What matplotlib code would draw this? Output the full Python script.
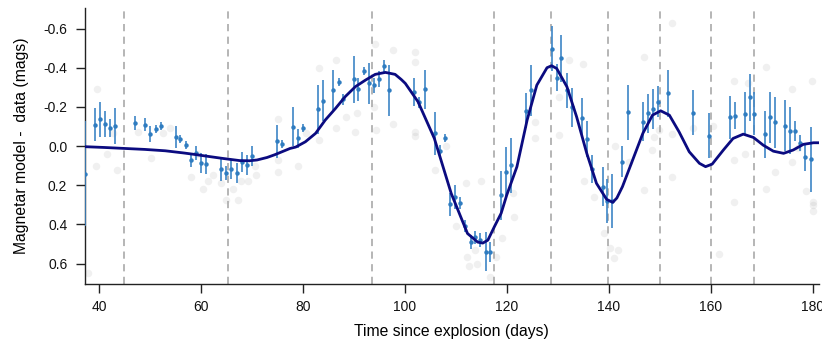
import matplotlib
matplotlib.use("Agg")
import matplotlib.pyplot as plt

plt.rcParams['font.family'] = ['Liberation Sans', 'DejaVu Sans']

# Observed residuals with uncertainties (blue)
obs_x = [37.3, 39.2, 40.2, 41.2, 42.15, 43.1, 47.1, 49.1, 50.1, 51.1, 52.1,
         55.1, 56.0, 57.0, 58.0, 59.0, 60.0, 61.1, 64.0, 65.0, 66.0, 67.0,
         68.0, 69.0, 70.0, 75.0, 76.0, 78.0, 79.0, 80.0, 83.0, 84.0, 85.9,
         87.0, 87.9, 90.0, 90.9, 91.9, 92.9, 94.0, 94.9, 95.9, 96.9, 101.8,
         102.8, 103.9, 105.9, 106.9, 107.8, 108.9, 109.9, 110.8, 111.9, 112.9,
         113.8, 114.8, 115.9, 116.8, 118.9, 119.8, 120.8, 123.8, 124.8, 128.8,
         129.8, 130.7, 131.8, 132.8, 134.8, 135.8, 136.7, 138.8, 139.7, 140.7,
         142.7, 143.7, 146.7, 147.7, 148.7, 149.7, 151.7, 156.6, 159.7, 163.7,
         164.7, 166.7, 167.7, 168.6, 170.7, 171.6, 172.6, 174.6, 175.6, 176.6,
         177.6, 178.6, 179.7]
obs_y = [0.14, -0.11, -0.136, -0.112, -0.092, -0.102, -0.119, -0.11, -0.06,
         -0.087, -0.104, -0.047, -0.037, -0.004, 0.073, 0.036, 0.085, 0.09,
         0.116, 0.136, 0.117, 0.138, 0.082, 0.098, 0.05, -0.024, -0.01,
         -0.099, -0.039, -0.093, -0.187, -0.231, -0.286, -0.328, -0.238,
         -0.34, -0.289, -0.383, -0.32, -0.31, -0.343, -0.41, -0.286, -0.277,
         -0.223, -0.29, -0.065, 0.024, -0.043, 0.298, 0.26, 0.289, 0.408,
         0.49, 0.466, 0.481, 0.539, 0.54, 0.25, 0.134, 0.099, -0.18, -0.286,
         -0.497, -0.35, -0.449, -0.284, -0.197, -0.143, -0.036, 0.117, 0.207,
         0.28, 0.28, 0.08, -0.172, -0.124, -0.168, -0.189, -0.226, -0.269,
         -0.17, -0.053, -0.146, -0.156, -0.165, -0.248, -0.165, -0.06, -0.146,
         -0.121, -0.104, -0.078, -0.078, -0.015, 0.058, 0.068]
obs_err = [0.27, 0.085, 0.09, 0.065, 0.045, 0.092, 0.035, 0.035, 0.04, 0.02,
           0.02, 0.055, 0.02, 0.02, 0.035, 0.035, 0.05, 0.05, 0.06, 0.035,
           0.05, 0.05, 0.05, 0.05, 0.05, 0.085, 0.02, 0.1, 0.05, 0.02, 0.125,
           0.105, 0.1, 0.02, 0.03, 0.12, 0.06, 0.02, 0.105, 0.04, 0.04, 0.03,
           0.13, 0.07, 0.03, 0.1, 0.11, 0.03, 0.02, 0.06, 0.06, 0.03, 0.03,
           0.035, 0.035, 0.035, 0.1, 0.05, 0.125, 0.13, 0.14, 0.09, 0.13,
           0.115, 0.07, 0.12, 0.09, 0.1, 0.1, 0.09, 0.07, 0.1, 0.11, 0.14,
           0.08, 0.14, 0.1, 0.1, 0.1, 0.08, 0.12, 0.115, 0.115, 0.11, 0.07,
           0.11, 0.12, 0.11, 0.12, 0.13, 0.13, 0.13, 0.12, 0.05, 0.04, 0.07,
           0.165]

# Faint background residuals (gray)
bg_x = [39.7, 39.5, 37.8, 42.8, 43.5, 41.5, 47.7, 50.3, 52.6, 53.9, 58.1,
        59.2, 60.4, 61.4, 62.4, 64.0, 65.0, 66.3, 67.3, 67.9, 69.2, 70.9,
        70.7, 75.1, 75.1, 75.1, 79.0, 80.6, 83.2, 83.2, 86.5, 86.5, 88.5,
        90.3, 90.7, 94.0, 94.3, 97.7, 97.7, 94.2, 102.0, 102.0, 102.0, 102.0,
        105.9, 108.0, 112.0, 110.0, 112.3, 112.6, 114.9, 113.8, 114.2, 116.8,
        117.8, 119.1, 121.4, 121.3, 125.5, 125.5, 130.2, 130.2, 132.2, 135.0,
        135.1, 137.1, 139.0, 140.3, 141.0, 141.8, 141.3, 143.9, 147.0, 147.0,
        148.5, 148.9, 149.8, 152.4, 152.4, 152.4, 156.6, 161.7, 160.5, 164.6,
        164.6, 164.6, 166.7, 170.8, 170.8, 172.6, 175.9, 175.9, 177.2, 179.8,
        180.1, 180.1, 180.1, 178.8, 167.4]
bg_y = [-0.29, 0.10, 0.65, -0.065, 0.12, 0.04, -0.07, 0.06, -0.065, -0.09,
        0.16, 0.04, 0.22, 0.18, 0.15, 0.19, 0.275, 0.22, 0.275, 0.18, 0.18,
        0.15, 0.10, -0.14, 0.07, 0.13, 0.10, -0.065, -0.03, -0.40, -0.44,
        -0.09, -0.15, -0.07, -0.17, -0.20, -0.08, -0.49, -0.115, -0.52, -0.48,
        -0.43, -0.07, -0.05, 0.12, 0.0, 0.19, 0.41, 0.565, 0.61, 0.18, 0.53,
        0.60, 0.67, 0.565, 0.47, 0.36, 0.24, -0.04, -0.125, -0.056, -0.25,
        -0.44, -0.42, 0.18, 0.26, 0.445, 0.52, 0.57, 0.53, 0.0, 0.08, -0.455,
        0.225, 0.02, -0.048, -0.08, -0.63, 0.157, -0.06, -0.09, 0.55, -0.10,
        -0.33, 0.284, 0.07, 0.04, -0.405, 0.22, 0.13, -0.29, 0.08, 0.01,
        -0.33, 0.284, 0.30, 0.33, 0.23, -0.32]

# Magnetar model curve (navy)
model_x = [37.2, 41.0, 45.0, 49.0, 53.0, 56.6, 58.6, 61.0, 64.3, 67.6, 69.5,
           71.0, 73.0, 74.5, 76.0, 77.5, 78.6, 80.5, 82.5, 84.4, 86.4, 88.3,
           90.3, 92.3, 94.2, 96.2, 98.1, 99.3, 100.1, 102.6, 105.8, 109.1,
           112.3, 114.3, 115.3, 116.3, 117.6, 118.9, 120.0, 122.0, 124.0,
           125.9, 127.9, 128.8, 129.8, 131.8, 133.7, 135.7, 137.6, 139.6,
           140.8, 141.6, 142.7, 144.7, 146.7, 148.6, 150.2, 151.9, 153.8,
           155.8, 157.8, 159.0, 160.3, 162.5, 164.4, 166.4, 168.4, 170.3,
           172.3, 174.3, 176.2, 178.2, 180.2, 181.4]
model_y = [0.003, 0.007, 0.012, 0.017, 0.024, 0.035, 0.042, 0.051, 0.063,
           0.074, 0.075, 0.071, 0.058, 0.044, 0.028, 0.012, 0.005, -0.022,
           -0.065, -0.133, -0.192, -0.252, -0.303, -0.337, -0.366, -0.376,
           -0.366, -0.34, -0.32, -0.226, -0.039, 0.241, 0.446, 0.49, 0.495,
           0.48, 0.41, 0.343, 0.25, 0.105, -0.133, -0.311, -0.4, -0.41,
           -0.396, -0.303, -0.15, 0.037, 0.19, 0.272, 0.287, 0.265, 0.207,
           0.071, -0.065, -0.158, -0.18, -0.158, -0.073, 0.029, 0.088, 0.105,
           0.092, 0.02, -0.039, -0.061, -0.044, -0.005, 0.026, 0.037, 0.02,
           -0.009, -0.017, -0.017]

# Epoch markers (dashed)
epochs = [45.0, 65.4, 93.5, 117.5, 128.7, 139.9, 150.0, 160.1, 168.5]

xticks = [40, 60, 80, 100, 120, 140, 160, 180]
yticks = [-0.6, -0.4, -0.2, 0.0, 0.2, 0.4, 0.6]
ytick_labels = ['-0.6', '-0.4', '-0.2', '0.0', '0.2', '0.4', '0.6']

fig = plt.figure(figsize=(8.22, 3.47), dpi=100)
ax = fig.add_axes([0.103, 0.182, 0.893, 0.794])

ax.scatter(bg_x, bg_y, s=30, color='#9a9a9a', alpha=0.14, linewidths=0, zorder=1)

for e in epochs:
    ax.axvline(e, color='#b0b0b0', lw=1.3, ls=(0, (4, 3)), zorder=2)

ax.errorbar(obs_x, obs_y, yerr=obs_err, fmt='o', color='#2f7cc0',
            ecolor='#3d85c6', elinewidth=1.2, capsize=2.6, capthick=1.0,
            markersize=3.2, markeredgewidth=0, zorder=3)

ax.plot(model_x, model_y, color='#0b0b80', lw=2.0, zorder=4,
        solid_joinstyle='round')

ax.set_xlim(37.2, 181.2)
ax.set_ylim(0.703, -0.703)
ax.set_xticks(xticks)
ax.set_yticks(yticks)
ax.set_yticklabels(ytick_labels)
ax.tick_params(axis='both', labelsize=10, length=6.5, width=1.0,
               direction='out', colors='#222222', labelcolor='#111111')
ax.tick_params(axis='x', pad=5)
ax.tick_params(axis='y', pad=6)

for s in ['top', 'right']:
    ax.spines[s].set_visible(False)
for s in ['left', 'bottom']:
    ax.spines[s].set_linewidth(1.0)
    ax.spines[s].set_color('#222222')

ax.set_xlabel('Time since explosion (days)', fontsize=11.3, labelpad=7)
ax.set_ylabel('Magnetar model -  data (mags)', fontsize=11.3, labelpad=10)

fig.savefig('out.png', dpi=100)
